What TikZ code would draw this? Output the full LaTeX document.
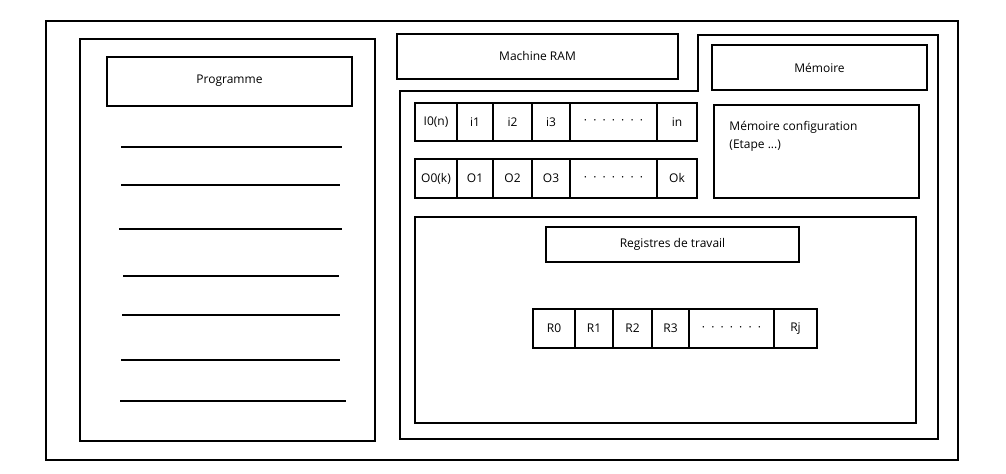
\documentclass[tikz,border=0pt]{standalone}
\usepackage{fontspec}
\setmainfont{Open Sans}
\usepackage{tikz}

\newcommand{\pointille}{\foreach \k in {1,...,6}{\textperiodcentered\hspace{4.6pt}}\textperiodcentered}

\tikzset{
  label/.style={inner sep=1pt},
  cfgtext/.style={anchor=north west,align=left,inner sep=0pt,font=\fontsize{9}{14}\selectfont}
}

\begin{document}
\begin{tikzpicture}[x=0.75pt,y=-0.75pt,line width=2.2pt,font=\fontsize{9}{11}\selectfont]
\useasboundingbox (0,0) rectangle (1006,474);
\draw (46,21) rectangle (958,460);
% programme
\draw (80,39) rectangle (375,441);
\draw (107,57) rectangle (352,106);
\node[label] (prog) at (229.5,81) {Programme};
\foreach \xa/\xb/\y in {121/342/147,121/340/185,119/342/229,123/339/276,122/340/315,121/340/360,120/346/401}
  \draw (\xa,\y) -- (\xb,\y);
% machine RAM
\draw (397,34) rectangle (678,79);
\node[label] (ram) at (537.5,56.5) {Machine RAM};
\draw (400,439) -- (400,91) -- (698,91) -- (698,35) -- (938,35) -- (938,439) -- cycle;
\draw (712,45) rectangle (927,90);
\node[label] (mem) at (819.5,67.5) {Mémoire};
\draw (714,105) rectangle (919,198);
\node[cfgtext] (cfg) at (728,119.5) {Mémoire configuration\\(Etape ...)};
% entrees / sorties
\foreach \a/\b/\t [count=\i] in {415/457/I0(n),457/493/i1,493/532/i2,532/570/i3,570/657/\pointille,657/697/in}{
  \draw (\a,103) rectangle (\b,141);
  \node[label] (in\i) at ({(\a+\b)/2},122) {\t};
}
\foreach \a/\b/\t [count=\i] in {415/457/O0(k),457/493/O1,493/532/O2,532/570/O3,570/657/\pointille,657/697/Ok}{
  \draw (\a,159) rectangle (\b,198);
  \node[label] (out\i) at ({(\a+\b)/2},178.5) {\t};
}
% registres
\draw (415,217) rectangle (916,423);
\draw (546,227) rectangle (799,262);
\node[label] (regs) at (672.5,244.5) {Registres de travail};
\foreach \a/\b/\t [count=\i] in {533/575/R0,575/613/R1,613/652/R2,652/689/R3,689/774/\pointille,774/817/Rj}{
  \draw (\a,309) rectangle (\b,348);
  \node[label] (r\i) at ({(\a+\b)/2},328.5) {\t};
}
\end{tikzpicture}
\end{document}
